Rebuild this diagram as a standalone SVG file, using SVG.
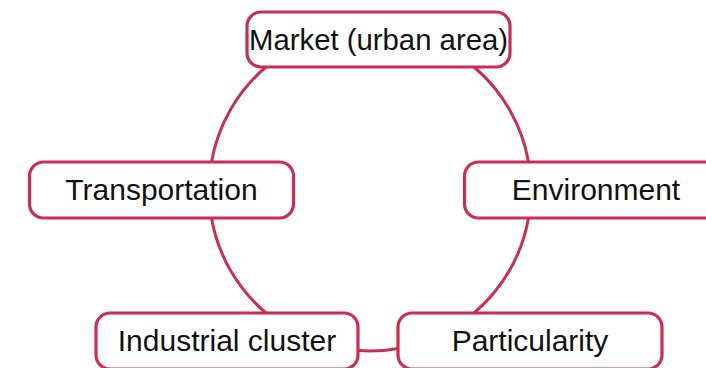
<svg xmlns="http://www.w3.org/2000/svg" width="706" height="368" viewBox="0 0 706 368">
<style>
.c{fill:none;stroke:#c92f52;stroke-width:3}
.n rect{fill:#fff;stroke:#c92f52;stroke-width:3.2}
.n text{font-family:"Liberation Sans",Arial,sans-serif;font-size:30px;fill:#111;text-anchor:middle}
</style>
<rect width="706" height="368" fill="#fff"/>
<g id="connectors">
<path class="c" d="M474 67 A161 161 0 0 1 528.5 162"/>
<path class="c" d="M528.5 218 A161 161 0 0 1 474 313"/>
<path class="c" d="M398 348.5 A161 161 0 0 1 358 350.6"/>
<path class="c" d="M266 313 A161 161 0 0 1 211.5 218"/>
<path class="c" d="M211.5 162 A161 161 0 0 1 266 67"/>
</g>
<g id="market" class="n"><rect x="247" y="12" width="263" height="55" rx="14"/><text x="378.5" y="50" textLength="259" lengthAdjust="spacingAndGlyphs">Market (urban area)</text></g>
<g id="transportation" class="n"><rect x="29.5" y="162" width="264" height="56" rx="14"/><text x="161.5" y="200">Transportation</text></g>
<g id="environment" class="n"><rect x="464.5" y="162" width="264" height="56" rx="14"/><text x="596" y="200">Environment</text></g>
<g id="industrial" class="n"><rect x="96" y="313" width="262" height="56" rx="14"/><text x="227" y="351">Industrial cluster</text></g>
<g id="particularity" class="n"><rect x="398" y="313" width="264" height="56" rx="14"/><text x="530" y="351">Particularity</text></g>
</svg>
